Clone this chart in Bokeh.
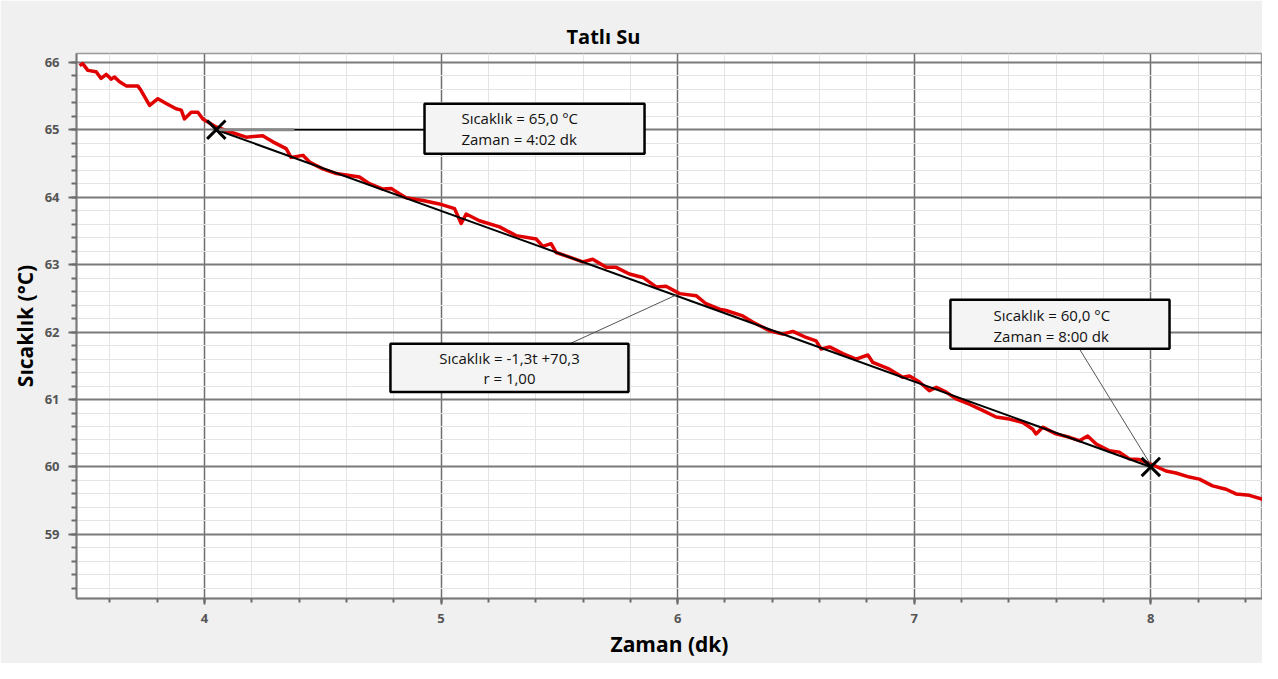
from bokeh.plotting import figure
from bokeh.models import SingleIntervalTicker, Range1d
from bokeh.core.properties import value
from bokeh.embed import file_html
from bokeh.resources import INLINE

# ---- data ----
time_min = [3.472, 3.485, 3.507, 3.542, 3.563, 3.585, 3.606, 3.620, 3.641, 3.669,
            3.718, 3.732, 3.768, 3.803, 3.838, 3.880, 3.902, 3.915, 3.944, 3.972,
            3.993, 4.049, 4.106, 4.176, 4.246, 4.289, 4.345, 4.366, 4.416, 4.444,
            4.500, 4.557, 4.599, 4.655, 4.697, 4.754, 4.789, 4.824, 4.852, 4.923,
            4.993, 5.057, 5.085, 5.106, 5.162, 5.247, 5.317, 5.402, 5.430, 5.465,
            5.486, 5.543, 5.599, 5.641, 5.698, 5.740, 5.796, 5.853, 5.909, 5.951,
            6.008, 6.078, 6.120, 6.177, 6.205, 6.275, 6.317, 6.388, 6.444, 6.487,
            6.543, 6.585, 6.606, 6.642, 6.698, 6.754, 6.804, 6.825, 6.895, 6.951,
            6.980, 7.022, 7.064, 7.093, 7.135, 7.177, 7.233, 7.289, 7.346, 7.402,
            7.459, 7.501, 7.515, 7.543, 7.599, 7.656, 7.698, 7.733, 7.769, 7.825,
            7.867, 7.909, 7.951, 8.008, 8.064, 8.106, 8.163, 8.205, 8.261, 8.318,
            8.360, 8.417, 8.473, 8.529]
temp_c = [65.95, 65.98, 65.88, 65.86, 65.76, 65.82, 65.75, 65.78, 65.71, 65.65,
          65.65, 65.58, 65.36, 65.46, 65.39, 65.31, 65.29, 65.16, 65.26, 65.26,
          65.16, 65.04, 64.97, 64.89, 64.91, 64.82, 64.72, 64.59, 64.62, 64.52,
          64.42, 64.35, 64.33, 64.30, 64.20, 64.12, 64.13, 64.05, 63.99, 63.95,
          63.90, 63.83, 63.61, 63.75, 63.65, 63.56, 63.43, 63.38, 63.27, 63.31,
          63.18, 63.11, 63.04, 63.08, 62.96, 62.96, 62.86, 62.81, 62.67, 62.68,
          62.57, 62.54, 62.42, 62.34, 62.32, 62.24, 62.15, 62.02, 61.97, 62.01,
          61.92, 61.87, 61.75, 61.78, 61.68, 61.60, 61.66, 61.55, 61.45, 61.33,
          61.35, 61.26, 61.13, 61.18, 61.11, 61.01, 60.93, 60.84, 60.74, 60.71,
          60.66, 60.56, 60.49, 60.59, 60.49, 60.44, 60.39, 60.46, 60.34, 60.24,
          60.22, 60.12, 60.11, 60.03, 59.94, 59.91, 59.85, 59.82, 59.72, 59.67,
          59.60, 59.58, 59.52, 59.45]

fit_time = [4.05, 8.0]
fit_temp = [65.0, 60.0]

mark_time = [4.05, 8.0]
mark_temp = [65.0, 60.0]

box1_lines = ["Sıcaklık = 65,0 °C", "Zaman = 4:02 dk"]
box2_lines = ["Sıcaklık = -1,3t +70,3", "r = 1,00"]
box3_lines = ["Sıcaklık = 60,0 °C", "Zaman = 8:00 dk"]

FONT = "Open Sans"

p = figure(width=1262, height=663,
           x_range=Range1d(3.459, 8.472), y_range=Range1d(58.05, 66.13),
           output_backend="svg", toolbar_location=None, title="Tatlı Su",
           min_border_left=76, min_border_right=0, min_border_top=53,
           min_border_bottom=65)

p.border_fill_color = "#f0f0f0"
p.background_fill_color = "white"
p.outline_line_color = "#9a9a9a"
p.outline_line_width = 1.5

p.title.text_font = FONT
p.title.text_font_size = "20px"
p.title.text_font_style = "bold"
p.title.align = "left"
p.title.offset = 490
p.title.standoff = 7
p.title.text_color = "black"

for ax in (p.xaxis, p.yaxis):
    ax.ticker = SingleIntervalTicker(interval=1, num_minor_ticks=5)
    ax.axis_line_color = "#7a7a7a"
    ax.axis_line_width = 2
    ax.major_tick_line_color = "#6a6a6a"
    ax.major_tick_line_width = 2
    ax.minor_tick_line_color = "#6a6a6a"
    ax.minor_tick_line_width = 2
    ax.major_tick_in = 0
    ax.minor_tick_in = 0
    ax.major_label_text_font = FONT
    ax.major_label_text_font_style = "bold"
    ax.major_label_text_color = "#555555"
    ax.major_label_text_font_size = "13px"
    ax.axis_label_text_font = FONT
    ax.axis_label_text_font_style = "bold"
    ax.axis_label_text_font_size = "21px"
    ax.axis_label_text_color = "black"

p.xaxis.axis_label = "Zaman (dk)"
p.xaxis.major_tick_out = 6
p.xaxis.minor_tick_out = 4
p.xaxis.major_label_standoff = 9
p.xaxis.axis_label_standoff = 4

p.yaxis.axis_label = "Sıcaklık (°C)"
p.yaxis.major_tick_out = 8
p.yaxis.minor_tick_out = 5
p.yaxis.major_label_standoff = 9
p.yaxis.axis_label_standoff = 3

p.xgrid.grid_line_color = "#6f6f6f"
p.xgrid.grid_line_width = 1.5
p.ygrid.grid_line_color = "#7a7a7a"
p.ygrid.grid_line_width = 2
for g in (p.xgrid, p.ygrid):
    g.minor_grid_line_color = "#e4e4e4"
    g.minor_grid_line_width = 1

# data line
p.line(time_min, temp_c, line_color="#e10000", line_width=3.5, line_join="round")

# fit line
p.line(fit_time, fit_temp, line_color="black", line_width=2)

# leader lines
p.line([mark_time[0], 4.38], [mark_temp[0], mark_temp[0]], line_color="#8a8a8a", line_width=3)
p.line([4.38, 4.93], [mark_temp[0], mark_temp[0]], line_color="black", line_width=1.5)
p.line([5.543, 6.0], [61.825, 62.56], line_color="#555555", line_width=1)
p.line([7.698, mark_time[1]], [61.751, mark_temp[1] + 0.03], line_color="#555555", line_width=1)

# markers
p.scatter(mark_time, mark_temp, marker="x", size=26, line_color="black", line_width=3)

# annotation boxes
p.quad(left=[4.930, 4.786, 7.153], right=[5.860, 5.792, 8.079],
       top=[65.386, 61.825, 62.478], bottom=[64.644, 61.113, 61.751],
       fill_color="#f4f4f4", line_color="black", line_width=2.5)

p.text(x=[5.086, 5.086], y=[65.178, 64.866], text=box1_lines,
       text_font=value(FONT), text_font_size="15px", text_align="left",
       text_baseline="middle", text_color="#111111")
p.text(x=[5.289, 5.289], y=[61.617, 61.32], text=box2_lines,
       text_font=value(FONT), text_font_size="15px", text_align="center",
       text_baseline="middle", text_color="#111111")
p.text(x=[7.335, 7.335], y=[62.255, 61.944], text=box3_lines,
       text_font=value(FONT), text_font_size="15px", text_align="left",
       text_baseline="middle", text_color="#111111")

open("out.html", "w").write(file_html(p, INLINE))
